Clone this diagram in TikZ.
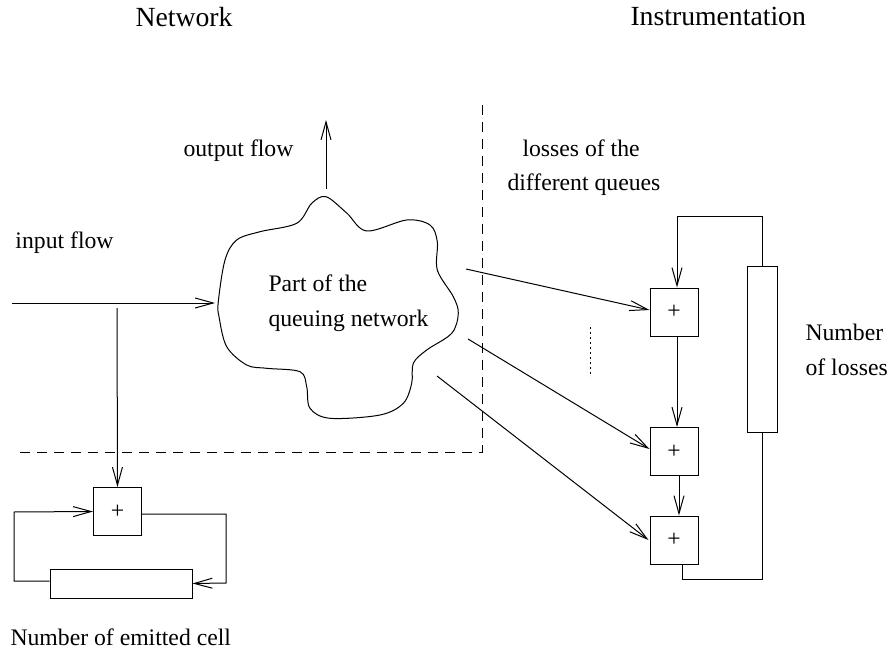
\documentclass[tikz,border=0pt]{standalone}
\usepackage{fontspec}
\setmainfont{Liberation Serif}
\usetikzlibrary{arrows.meta}
\newcommand\bodyfont{\fontsize{23.7}{28}\selectfont}
\newcommand\headfont{\fontsize{27.7}{32}\selectfont}
\begin{document}
\begin{tikzpicture}[x=1pt,y=-1pt,line width=1pt,
  arr/.style={-{Straight Barb[length=18pt,width=10pt,line width=1pt]}},
  txt/.style={inner sep=0pt,anchor=base west,font=\bodyfont},
  head/.style={inner sep=0pt,anchor=base west,font=\headfont},
  plusbox/.style={draw,minimum width=48pt,minimum height=48pt,inner sep=0pt,font=\bodyfont},
  counter/.style={draw,inner sep=0pt}]
\useasboundingbox (0,0) rectangle (891,652);

% titles
\node[head] (tnet) at (135,27) {Network};
\node[head] (tins) at (630,26) {Instrumentation};

% dashed separation
\draw[dash pattern=on 10pt off 7pt] (482,105) -- (482,452) -- (14,452);

% cloud
\draw[line width=1pt] plot[smooth cycle, tension=0.55] coordinates {
 (326,196.7) (346.7,213) (366.7,231) (406.7,220) (430,225) (437.3,241.7)
 (437.3,270) (453.3,296.7) (458.3,313.3) (451.7,333.3) (426.7,350)
 (413.3,363.3) (411.7,383.3) (403.3,403.3) (380,415) (330,418.3)
 (310,408.3) (306.7,386.7) (300,371.7) (266.7,368.3) (246.7,365)
 (226.7,346.7) (219,316.7) (218.3,301.7) (225,260) (236.7,240)
 (260,231.7) (296.7,223.3) (311.7,203.3)};
\node[txt] (ct1) at (268,291) {Part of the};
\node[txt] (ct2) at (268,326) {queuing network};

% labels
\node[txt] (lin) at (15,249) {input flow};
\node[txt] (lout) at (183,157) {output flow};
\node[txt] (lloss1) at (522,157) {losses of the};
\node[txt] (lloss2) at (507,191) {different queues};
\node[txt] (lnum1) at (805,340) {Number};
\node[txt] (lnum2) at (805,375) {of losses};
\node[txt] (lemit) at (10,645) {Number of emitted cell};

% connector end points
\coordinate (in) at (12,303);
\coordinate (cl) at (215,303);
\coordinate (tap) at (117,308);
\coordinate (ctop) at (326,189);
\coordinate (otip) at (326,120);
\coordinate (c1) at (466,269);
\coordinate (c2) at (468,339);
\coordinate (c3) at (437,376);

% left counter
\node[plusbox] (lb) at (117.5,511.5) {+};
\node[counter,minimum width=142pt,minimum height=29pt] (lr) at (121,583.5) {};
\coordinate (r1) at (226,514);
\coordinate (r2) at (226,583);
\coordinate (l1) at (14,581);
\coordinate (l2) at (14,512);

% right boxes
\node[plusbox] (b1) at (674,312) {+};
\node[plusbox] (b2) at (674,451.5) {+};
\node[plusbox] (b3) at (674,540) {+};
\node[counter,minimum width=30pt,minimum height=165pt] (rr) at (762,349.5) {};
\coordinate (t1) at (762,217);
\coordinate (t2) at (677,217);
\coordinate (u1) at (682,579);
\coordinate (u2) at (762,579);

% flows
\draw[arr] (in) -- (cl);
\draw[arr] (ctop) -- (otip);
\draw[arr] (tap) -- (lb.north);
\draw[arr] ([yshift=-2.5pt]lb.east) -- (r1) -- (r2) -- (lr.east);
\draw[arr] ([yshift=2.5pt]lr.west) -- (l1) -- (l2) -- (lb.west);

\draw[arr] (c1) -- ([yshift=2pt]b1.west);
\draw[arr] (c2) -- ([yshift=2.5pt]b2.west);
\draw[arr] (c3) -- ([xshift=-1pt]b3.west);

\draw[arr] (rr.north) -- (t1) -- (t2) -- ([xshift=3pt]b1.north);
\draw[arr] ([xshift=3pt]b1.south) -- ([xshift=3pt]b2.north);
\draw[arr] ([xshift=5pt]b2.south) -- ([xshift=5pt]b3.north);
\draw ([xshift=8pt]b3.south) -- (u1) -- (u2) -- (rr.south);

% dotted ellipsis
\draw[dash pattern=on 2pt off 3pt] (590,327) -- (590,377);
\end{tikzpicture}
\end{document}
